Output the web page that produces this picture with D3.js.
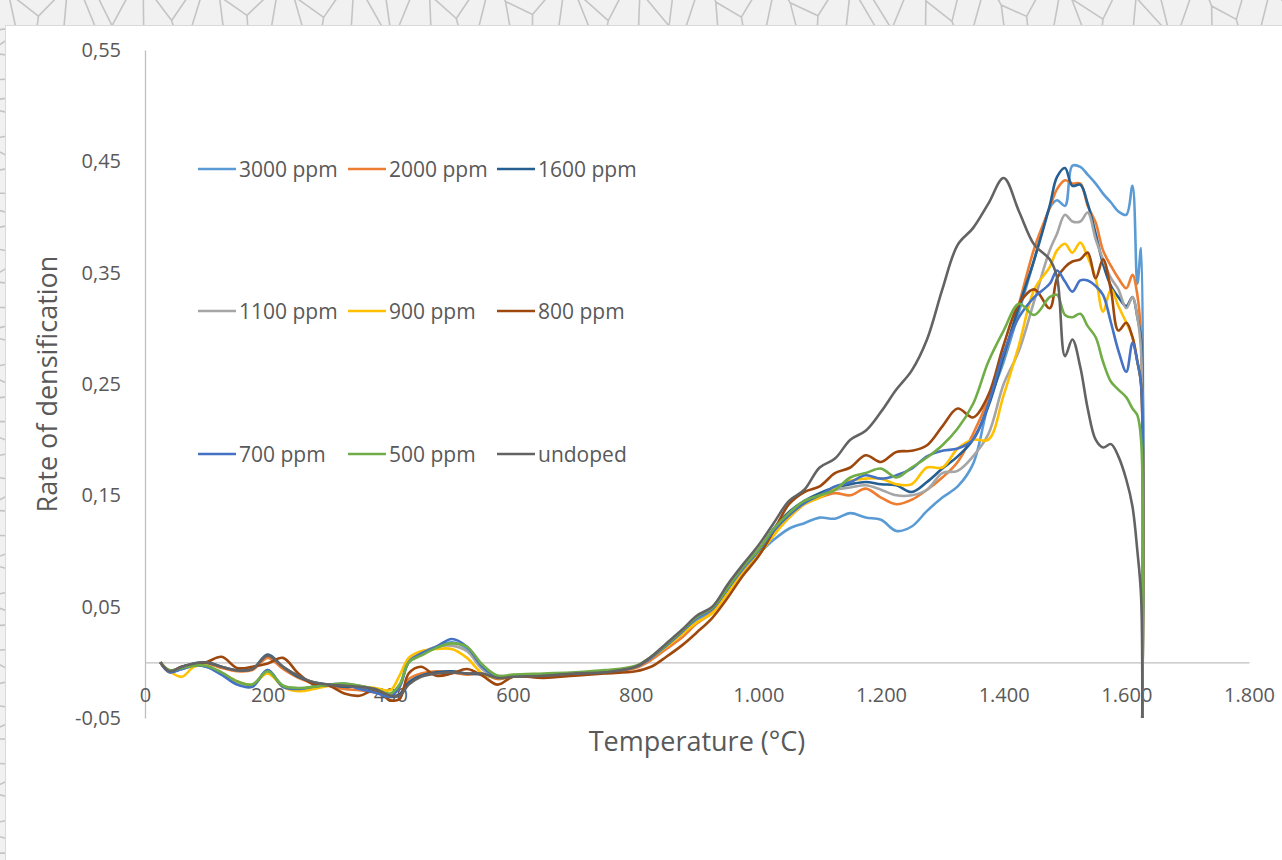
<!DOCTYPE html>
<html>
<head>
<meta charset="utf-8">
<script src="https://cdnjs.cloudflare.com/ajax/libs/d3/7.8.5/d3.min.js"></script>
<style>
	body { margin: 0; background: #f0f0f0; }
	svg { display: block; font-family: "Open Sans", sans-serif; }
</style>
</head>
<body>
<svg id="chart"></svg>
<script>
// temperature grid (°C) shared by all series
var temps = [25, 40, 60, 80, 100, 125, 150, 175, 200, 225,
	250, 275, 300, 325, 350, 375, 400, 415, 430, 450,
	475, 500, 525, 550, 575, 600, 650, 700, 750, 800,
	825, 850, 875, 900, 925, 950, 975, 1000, 1025, 1050,
	1075, 1100, 1125, 1150, 1175, 1200, 1225, 1250, 1275, 1300,
	1325, 1350, 1375, 1400, 1425, 1450, 1475, 1487, 1500, 1512,
	1525, 1537, 1550, 1562, 1575, 1587, 1600, 1610, 1618, 1624,
	1626];

var s3000 = [0, -0.008, -0.006, -0.003, -0.004, -0.011, -0.019, -0.021, -0.007, -0.022,
	-0.024, -0.022, -0.02, -0.019, -0.022, -0.025, -0.03, -0.022, 0.0, 0.008,
	0.014, 0.018, 0.012, -0.006, -0.013, -0.012, -0.011, -0.01, -0.008, -0.004,
	0.004, 0.014, 0.026, 0.038, 0.046, 0.064, 0.082, 0.097, 0.11, 0.12,
	0.125, 0.13, 0.129, 0.134, 0.13, 0.128, 0.118, 0.122, 0.136, 0.148,
	0.158, 0.178, 0.232, 0.27, 0.315, 0.362, 0.408, 0.415, 0.41, 0.446,
	0.445, 0.438, 0.43, 0.421, 0.413, 0.405, 0.402, 0.428, 0.34, 0.372,
	-0.05];

var s2000 = [0, -0.009, -0.005, -0.002, -0.001, -0.005, -0.008, -0.007, 0.004, -0.006,
	-0.014, -0.019, -0.021, -0.024, -0.025, -0.027, -0.03, -0.029, -0.015, -0.01,
	-0.008, -0.009, -0.011, -0.01, -0.015, -0.013, -0.012, -0.011, -0.009, -0.005,
	0.002, 0.012, 0.022, 0.035, 0.045, 0.062, 0.08, 0.096, 0.115, 0.13,
	0.142, 0.148, 0.152, 0.15, 0.156, 0.148, 0.142, 0.146, 0.155, 0.166,
	0.18, 0.205, 0.236, 0.275, 0.322, 0.372, 0.408, 0.425, 0.433, 0.43,
	0.43, 0.41, 0.395, 0.37, 0.356, 0.345, 0.336, 0.348, 0.33, 0.29,
	-0.05];

var s1600 = [0, -0.008, -0.004, -0.001, 0.0, -0.004, -0.007, -0.006, 0.007, -0.004,
	-0.013, -0.018, -0.02, -0.022, -0.022, -0.025, -0.031, -0.029, -0.018, -0.012,
	-0.009, -0.008, -0.01, -0.011, -0.014, -0.013, -0.012, -0.01, -0.009, -0.004,
	0.004, 0.015, 0.027, 0.04, 0.048, 0.066, 0.085, 0.1, 0.12, 0.135,
	0.145, 0.152, 0.157, 0.16, 0.162, 0.16, 0.159, 0.153, 0.162, 0.174,
	0.185, 0.2, 0.23, 0.275, 0.32, 0.362, 0.41, 0.436, 0.444, 0.428,
	0.429, 0.412, 0.385, 0.358, 0.338, 0.328, 0.32, 0.328, 0.31, 0.29,
	-0.05];

var s1100 = [0, -0.008, -0.006, -0.003, -0.003, -0.01, -0.018, -0.02, -0.008, -0.021,
	-0.024, -0.022, -0.02, -0.02, -0.021, -0.024, -0.029, -0.022, 0.002, 0.008,
	0.014, 0.015, 0.01, -0.006, -0.012, -0.012, -0.011, -0.01, -0.008, -0.004,
	0.004, 0.015, 0.027, 0.04, 0.048, 0.066, 0.085, 0.1, 0.118, 0.133,
	0.143, 0.15, 0.155, 0.157, 0.159, 0.155, 0.15, 0.15, 0.155, 0.17,
	0.172, 0.185, 0.205, 0.25, 0.28, 0.325, 0.37, 0.385, 0.402, 0.396,
	0.396, 0.404, 0.38, 0.362, 0.345, 0.335, 0.318, 0.328, 0.31, 0.28,
	-0.05];

var s900 = [0, -0.008, -0.013, -0.004, -0.003, -0.01, -0.017, -0.02, -0.01, -0.022,
	-0.026, -0.024, -0.021, -0.02, -0.022, -0.023, -0.025, -0.012, 0.004, 0.01,
	0.012, 0.012, 0.004, -0.01, -0.014, -0.013, -0.012, -0.01, -0.008, -0.004,
	0.004, 0.014, 0.025, 0.036, 0.044, 0.062, 0.08, 0.096, 0.114, 0.13,
	0.142, 0.148, 0.156, 0.163, 0.165, 0.165, 0.16, 0.16, 0.175, 0.175,
	0.192, 0.2, 0.2, 0.24, 0.285, 0.335, 0.355, 0.37, 0.376, 0.368,
	0.377, 0.364, 0.345, 0.315, 0.335, 0.32, 0.305, 0.292, 0.27, 0.25,
	-0.05];

var s800 = [0, -0.008, -0.004, -0.002, 0.0, 0.005, -0.005, -0.004, -0.001, 0.004,
	-0.01, -0.02, -0.021, -0.028, -0.03, -0.025, -0.034, -0.033, -0.01, -0.004,
	-0.012, -0.01, -0.006, -0.012, -0.02, -0.013, -0.014, -0.012, -0.01, -0.008,
	-0.004, 0.005, 0.015, 0.027, 0.04, 0.058, 0.078, 0.095, 0.118, 0.142,
	0.153, 0.158, 0.17, 0.175, 0.186, 0.18, 0.189, 0.19, 0.195, 0.212,
	0.228, 0.22, 0.24, 0.285, 0.322, 0.335, 0.318, 0.345, 0.355, 0.36,
	0.362, 0.368, 0.345, 0.362, 0.334, 0.298, 0.305, 0.292, 0.27, 0.25,
	-0.05];

var s700 = [0, -0.009, -0.006, -0.003, -0.004, -0.011, -0.02, -0.022, -0.007, -0.022,
	-0.024, -0.022, -0.02, -0.02, -0.024, -0.027, -0.031, -0.022, 0.0, 0.008,
	0.014, 0.021, 0.014, -0.004, -0.013, -0.012, -0.011, -0.01, -0.008, -0.004,
	0.004, 0.015, 0.027, 0.04, 0.048, 0.066, 0.085, 0.1, 0.118, 0.132,
	0.143, 0.15, 0.158, 0.162, 0.168, 0.165, 0.168, 0.174, 0.185, 0.19,
	0.192, 0.2, 0.232, 0.278, 0.31, 0.328, 0.34, 0.352, 0.342, 0.333,
	0.343, 0.343, 0.338, 0.33, 0.305, 0.28, 0.261, 0.287, 0.27, 0.25,
	-0.05];

var s500 = [0, -0.007, -0.005, -0.003, -0.003, -0.009, -0.017, -0.02, -0.008, -0.021,
	-0.023, -0.022, -0.02, -0.019, -0.021, -0.024, -0.028, -0.02, 0.0, 0.006,
	0.013, 0.017, 0.014, -0.002, -0.012, -0.011, -0.01, -0.009, -0.007, -0.003,
	0.005, 0.016, 0.028, 0.041, 0.049, 0.067, 0.086, 0.101, 0.12, 0.134,
	0.145, 0.15, 0.155, 0.166, 0.17, 0.174, 0.166, 0.175, 0.184, 0.195,
	0.21, 0.232, 0.27, 0.298, 0.322, 0.312, 0.328, 0.33, 0.312, 0.31,
	0.313, 0.302, 0.292, 0.27, 0.252, 0.245, 0.238, 0.228, 0.222, 0.2,
	-0.05];

var sUndoped = [0, -0.008, -0.004, -0.001, 0.0, -0.004, -0.007, -0.006, 0.006, -0.004,
	-0.012, -0.018, -0.02, -0.021, -0.022, -0.024, -0.03, -0.03, -0.02, -0.013,
	-0.01, -0.009, -0.01, -0.01, -0.014, -0.013, -0.012, -0.01, -0.009, -0.004,
	0.005, 0.017, 0.029, 0.042, 0.05, 0.07, 0.088, 0.105, 0.125, 0.145,
	0.155, 0.175, 0.183, 0.2, 0.208, 0.225, 0.245, 0.262, 0.29, 0.335,
	0.375, 0.39, 0.412, 0.435, 0.405, 0.375, 0.362, 0.346, 0.275, 0.29,
	0.265, 0.228, 0.2, 0.193, 0.196, 0.185, 0.164, 0.14, 0.1, 0.06,
	-0.05];

var names = ['3000 ppm', '2000 ppm', '1600 ppm', '1100 ppm', '900 ppm', '800 ppm', '700 ppm', '500 ppm', 'undoped'];
var colors = ['#5B9BD5', '#ED7D31', '#255E91', '#A5A5A5', '#FFC000', '#9E480E', '#4472C4', '#70AD47', '#636363'];
var valueSets = [s3000, s2000, s1600, s1100, s900, s800, s700, s500, sUndoped];

var xTicks = [0, 200, 400, 600, 800, 1000, 1200, 1400, 1600, 1800];
var yTicks = [-0.05, 0.05, 0.15, 0.25, 0.35, 0.45, 0.55];

var width = 1282, height = 860;
var svg = d3.select('#chart').attr('width', width).attr('height', height);

// decorative background texture behind the chart sheet
var pts = [];
for (var i = 0; i < 70; i++) {
	pts.push([i * 19 + 9 * Math.sin(i * 1.7), 4 + 18 * Math.abs(Math.cos(i * 2.3))]);
}
for (var j = 0; j < 45; j++) {
	pts.push([2 + 6 * Math.abs(Math.sin(j * 1.3)), 30 + j * 19 + 7 * Math.cos(j * 2.1)]);
}
var vor = d3.Delaunay.from(pts).voronoi([-20, -20, width + 20, height + 20]);
svg.append('rect').attr('width', width).attr('height', height).attr('fill', '#f1f1f1');
svg.append('path')
	.attr('d', vor.render())
	.attr('fill', 'none')
	.attr('stroke', '#c4c4c4')
	.attr('stroke-width', 1.6);

svg.append('rect')
	.attr('x', 5.5).attr('y', 25.5)
	.attr('width', width).attr('height', height)
	.attr('fill', '#ffffff')
	.attr('stroke', '#d9d9d9');

var x = d3.scaleLinear().domain([0, 1800]).range([145, 1249]);
var y = d3.scaleLinear().domain([-0.05, 0.55]).range([718, 50]);

// Excel style: "." thousands, "," decimals, plain hyphen for minus
var fmtX = function(d) { return d3.format(',')(d).replace(',', '.'); };
var fmtY = function(d) { return d3.format('.2f')(d).replace('.', ',').replace('\u2212', '-'); };

var yAxis = svg.append('g')
	.attr('transform', 'translate(' + x(0) + ',0)')
	.call(d3.axisLeft(y).tickValues(yTicks).tickFormat(fmtY).tickSize(0).tickPadding(24));

var xAxis = svg.append('g')
	.attr('transform', 'translate(0,' + y(0) + ')')
	.call(d3.axisBottom(x).tickValues(xTicks).tickFormat(fmtX).tickSize(0).tickPadding(25));

svg.selectAll('.domain').attr('stroke', '#bfbfbf').attr('stroke-width', 1.3);
svg.selectAll('.tick text')
	.attr('fill', '#595959')
	.style('font-size', '20px')
	.style('font-family', '"Open Sans", sans-serif');

var line = d3.line()
	.x(function(d) { return x(d[0]); })
	.y(function(d) { return y(d[1]); })
	.curve(d3.curveCatmullRom.alpha(0.5));

var series = names.map(function(n, i) {
	return {
		'name': n,
		'color': colors[i],
		'points': temps.map(function(t, k) { return [t, valueSets[i][k]]; })
	};
});

svg.append('g')
	.selectAll('path')
	.data(series)
	.enter().append('path')
	.attr('d', function(d) { return line(d.points); })
	.attr('fill', 'none')
	.attr('stroke', function(d) { return d.color; })
	.attr('stroke-width', 2.6)
	.attr('stroke-linejoin', 'round');

// legend, 3 columns x 3 rows
var colX = [198, 348, 497];
var rowY = [169, 311, 454];
var legend = svg.append('g')
	.selectAll('g')
	.data(series)
	.enter().append('g')
	.attr('transform', function(d, i) { return 'translate(' + colX[i % 3] + ',' + rowY[Math.floor(i / 3)] + ')'; });

legend.append('line')
	.attr('x1', 0).attr('x2', 38)
	.attr('stroke', function(d) { return d.color; })
	.attr('stroke-width', 2.6);

legend.append('text')
	.attr('x', 41)
	.attr('dy', '0.36em')
	.text(function(d) { return d.name; })
	.attr('fill', '#595959')
	.style('font-size', '21px');

svg.append('text')
	.attr('x', 697).attr('y', 751)
	.attr('text-anchor', 'middle')
	.attr('fill', '#595959')
	.style('font-size', '27px')
	.text('Temperature (°C)');

svg.append('text')
	.attr('transform', 'translate(57,384) rotate(-90)')
	.attr('text-anchor', 'middle')
	.attr('fill', '#595959')
	.style('font-size', '27px')
	.text('Rate of densification');
</script>
</body>
</html>
